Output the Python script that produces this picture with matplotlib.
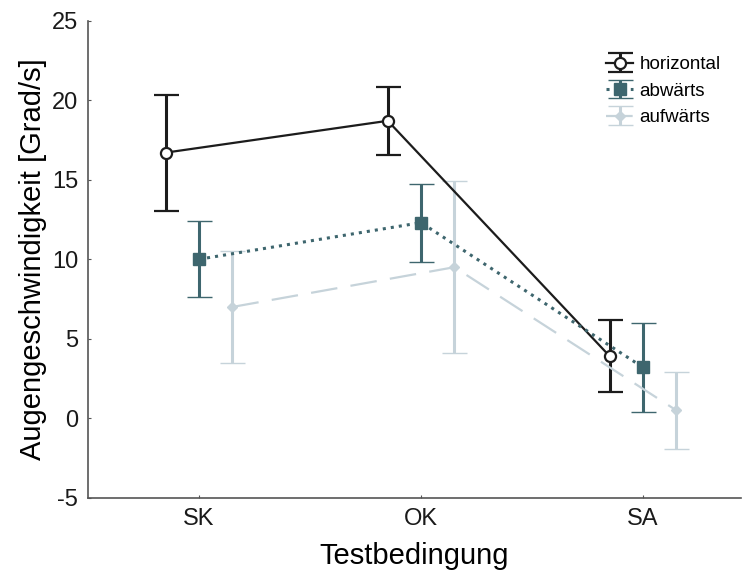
import matplotlib
matplotlib.use("Agg")
import matplotlib.pyplot as plt
import numpy as np

categories = ["SK", "OK", "SA"]
series = ["horizontal", "abwärts", "aufwärts"]
means = {
    "horizontal": [16.7, 18.7, 3.9],
    "abwärts": [10.0, 12.3, 3.2],
    "aufwärts": [7.0, 9.5, 0.5],
}
errors = {
    "horizontal": [3.65, 2.15, 2.25],
    "abwärts": [2.4, 2.45, 2.8],
    "aufwärts": [3.5, 5.4, 2.4],
}
yticks = [-5, 0, 5, 10, 15, 20, 25]

plt.rcParams['font.family'] = ['Liberation Sans', 'DejaVu Sans']

fig = plt.figure(figsize=(7.46, 5.71), dpi=100)
ax = fig.add_axes([0.118, 0.128, 0.875, 0.836])

styles = {
    "horizontal": dict(color="#1c1c1c", ls="-", marker="o", mfc="white", mec="#1c1c1c", ms=8, mew=1.6, lw=1.6, offset=-0.15, dashes=None),
    "abwärts": dict(color="#3e666e", ls=":", marker="s", mfc="#3e666e", mec="#3e666e", ms=8, mew=1, lw=2.2, offset=0.0, dashes=None),
    "aufwärts": dict(color="#c6d3da", ls="--", marker="D", mfc="#c6d3da", mec="#c6d3da", ms=5, mew=1, lw=1.6, offset=0.15, dashes=(12, 6)),
}

x = np.arange(1, len(categories) + 1)
for s in series:
    st = styles[s]
    eb = ax.errorbar(x + st["offset"], means[s], yerr=errors[s], color=st["color"],
                     ls=st["ls"], lw=st["lw"], marker=st["marker"], mfc=st["mfc"],
                     mec=st["mec"], ms=st["ms"], mew=st["mew"], capsize=9,
                     capthick=2, elinewidth=2.2, ecolor=st["color"], label=s, zorder=3)
    if st["dashes"] is not None:
        eb.lines[0].set_dashes(st["dashes"])

ax.set_xlim(0.5, 3.44)
ax.set_ylim(-5, 25)
ax.set_xticks(x)
ax.set_xticklabels(categories)
ax.set_yticks(yticks)
ax.set_yticklabels([str(t) for t in yticks])
ax.tick_params(direction="in", length=2.5, width=0.8, colors="#555555", labelcolor="#1a1a1a", labelsize=17, pad=7)
for sp in ["top", "right"]:
    ax.spines[sp].set_visible(False)
for sp in ["left", "bottom"]:
    ax.spines[sp].set_color("#555555")
    ax.spines[sp].set_linewidth(1.2)

ax.set_xlabel("Testbedingung", fontsize=21, labelpad=9)
ax.set_ylabel("Augengeschwindigkeit [Grad/s]", fontsize=21, labelpad=4)

leg = ax.legend(loc="upper left", bbox_to_anchor=(606 / 746, 1 - 56 / 571),
                bbox_transform=fig.transFigure, frameon=False, fontsize=13.5,
                handlelength=1.45, handletextpad=0.35, labelspacing=0.5,
                borderpad=0, borderaxespad=0)

fig.savefig("out.png", dpi=100)
